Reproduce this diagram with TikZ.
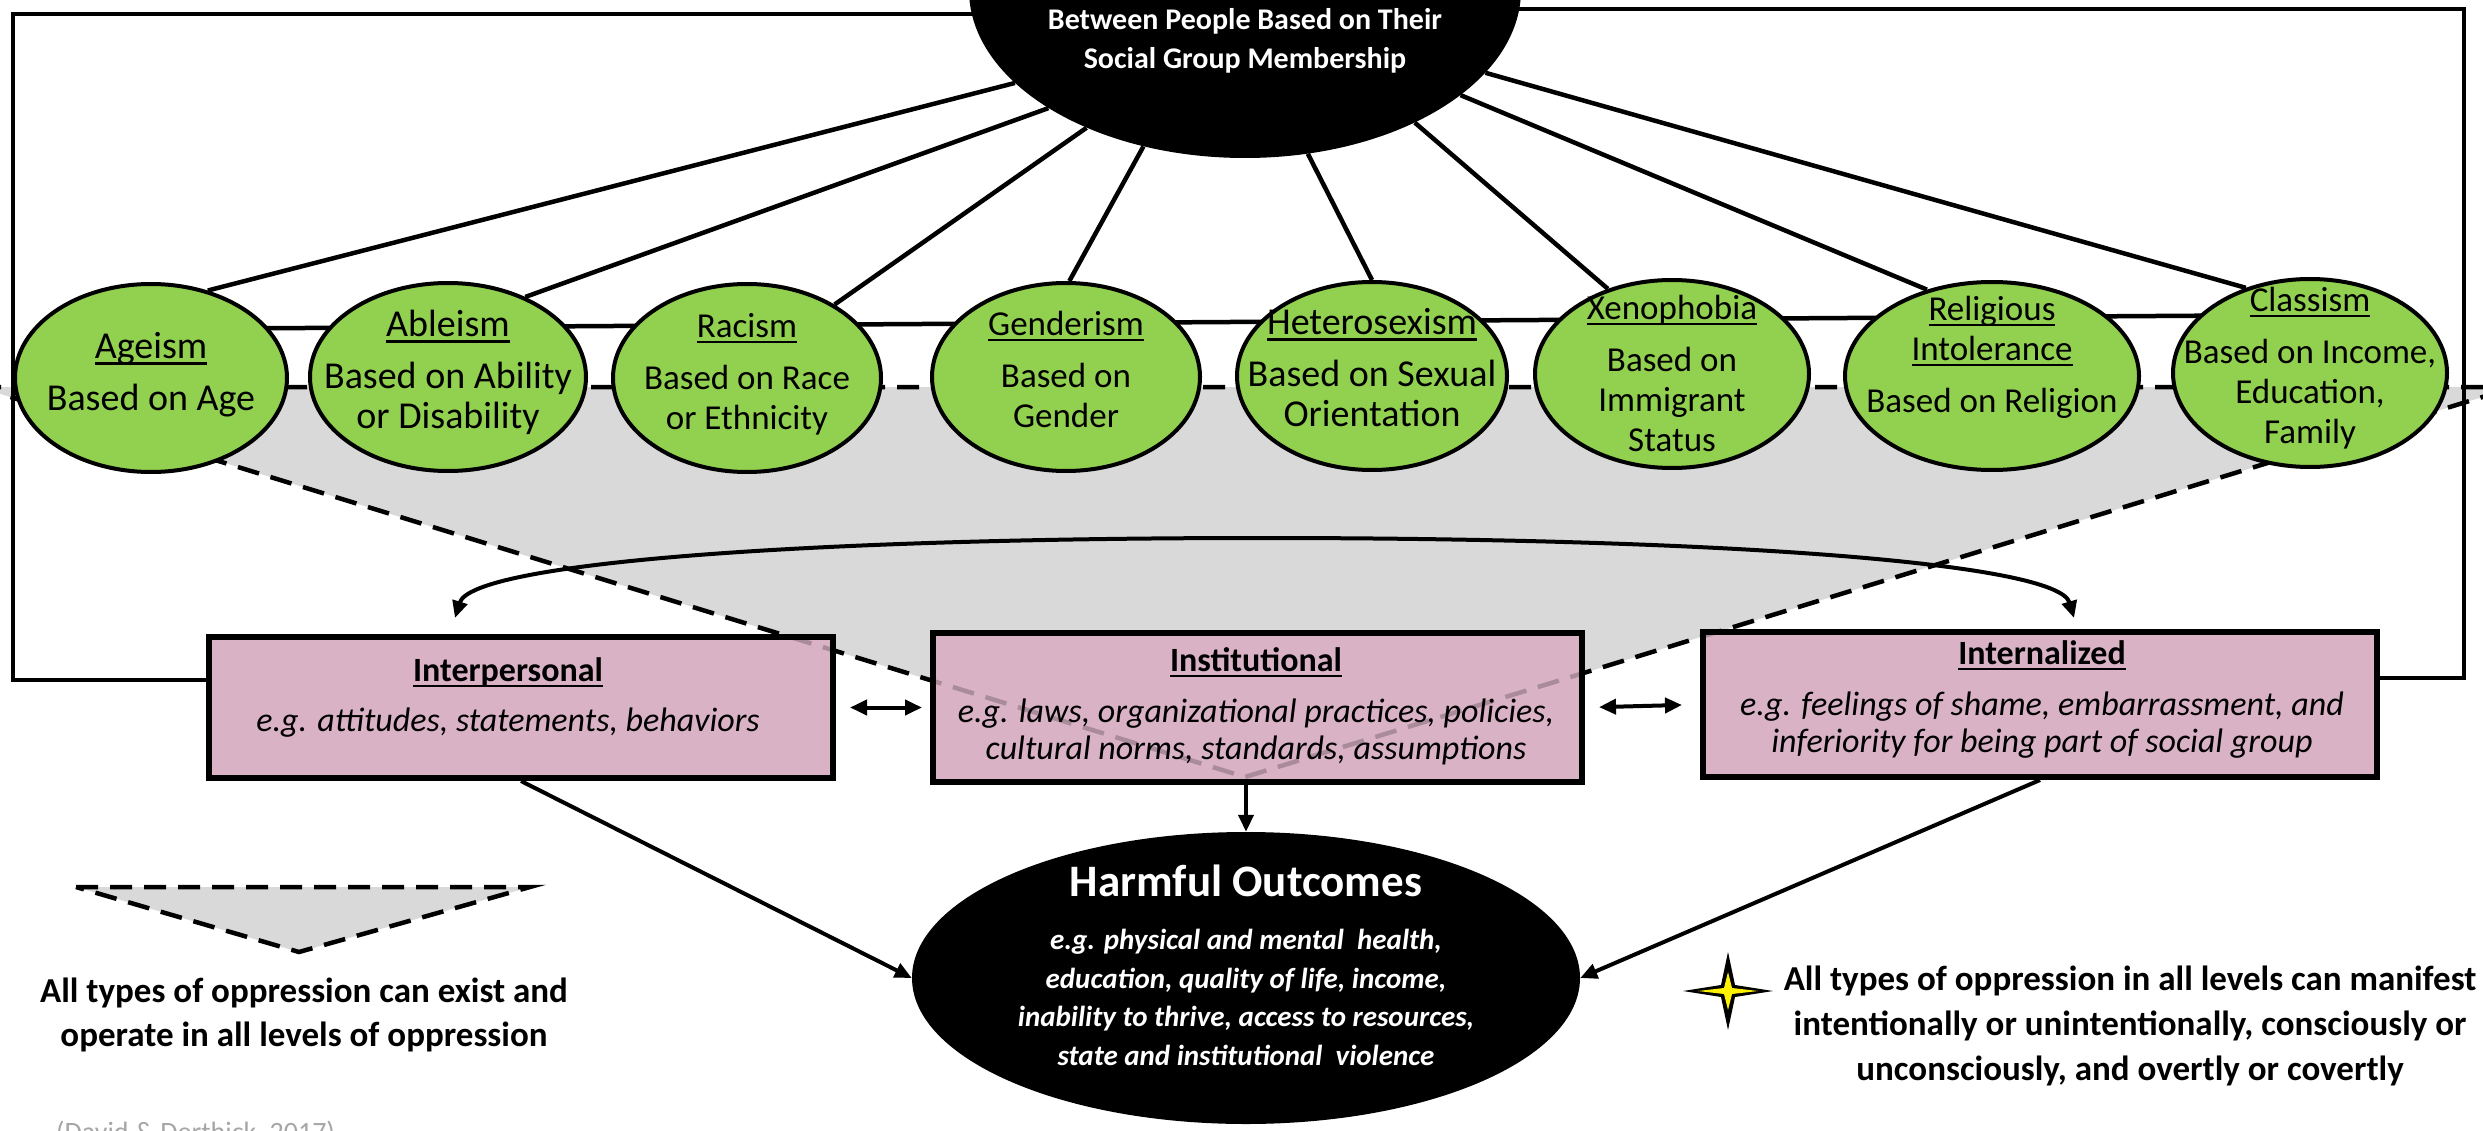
\documentclass[tikz,border=0pt]{standalone}
\usepackage{fontspec}
\setmainfont{Carlito}
\usetikzlibrary{shapes.geometric,arrows.meta,calc}
\definecolor{gfill}{RGB}{146,208,80}
\definecolor{pinkbox}{RGB}{217,179,197}
\definecolor{trigrey}{RGB}{217,217,217}
\definecolor{citegrey}{RGB}{166,166,166}
\definecolor{staryellow}{RGB}{255,242,0}
\newcommand{\myul}[1]{\leavevmode\setbox0=\hbox{#1}\rlap{\rule[-0.17em]{\wd0}{0.07em}}\box0}
\pgfdeclarelayer{bgtri}
\pgfdeclarelayer{bgline}
\pgfsetlayers{bgtri,bgline,main}
\begin{document}
\begin{tikzpicture}[x=1pt,y=-1pt,
  >={Triangle[length=17pt,width=15pt]},
  gell/.style={ellipse, draw=black, line width=4pt, fill=gfill, inner sep=0pt, minimum height=188pt},
  gtext/.style={align=center, inner sep=0pt, font=\fontsize{35}{40}\selectfont,
     execute at begin node=\strut, execute at end node=\strut},
  gtextbig/.style={gtext, font=\fontsize{38}{40}\selectfont},
  pbox/.style={rectangle, draw=black, line width=6pt, fill=pinkbox, inner sep=0pt},
  btext/.style={align=center, inner sep=0pt, font=\fontsize{34}{37}\selectfont,
     execute at begin node=\strut, execute at end node=\strut},
  wtext/.style={align=center, inner sep=0pt, text=white,
     execute at begin node=\strut, execute at end node=\strut},
  ltext/.style={align=center, inner sep=0pt, font=\bfseries\fontsize{35}{44}\selectfont,
     execute at begin node=\strut, execute at end node=\strut},
  spoke/.style={line width=4.5pt},
  frameline/.style={line width=4.5pt},
  dashline/.style={line width=4.5pt, dash pattern=on 22pt off 12pt},
  conn/.style={line width=4pt}
]
\useasboundingbox (0,0) rectangle (2483,1131);

% triangle corners
\coordinate (tl) at (-22,387);
\coordinate (tap) at (1245,777);
\coordinate (tr) at (2515,387);

% top ellipse
\node[ellipse, fill=black, minimum width=552pt, minimum height=336pt, inner sep=0pt] (top) at (1245,-10) {};
\node[wtext, font=\bfseries\fontsize{30}{39}\selectfont] (top-t) at (1245,44) {Between People Based on Their\\Social Group Membership};

% green ellipses
\node[gell, minimum width=272pt] (age) at (151,378) {};
\node[gell, minimum width=276pt] (able) at (448,377) {};
\node[gell, minimum width=268pt] (race) at (747,378) {};
\node[gell, minimum width=268pt] (gend) at (1066,377) {};
\node[gell, minimum width=270pt] (hetero) at (1372,376) {};
\node[gell, minimum width=274pt] (xeno) at (1672,374) {};
\node[gell, minimum width=294pt] (relig) at (1992,376) {};
\node[gell, minimum width=274pt] (class) at (2310,373) {};

\node[gtextbig] (age-t) at (151,377) {\myul{Ageism}\\[12pt]Based on Age};
\node[gtextbig] (able-t) at (448,375) {\myul{Ableism}\\[12pt]Based on Ability\\or Disability};
\node[gtext] (race-t) at (747,377) {\myul{Racism}\\[12pt]Based on Race\\or Ethnicity};
\node[gtext] (gend-t) at (1066,375) {\myul{Genderism}\\[12pt]Based on\\Gender};
\node[gtextbig] (hetero-t) at (1372,373) {\myul{Heterosexism}\\[12pt]Based on Sexual\\Orientation};
\node[gtext] (xeno-t) at (1672,379) {\myul{Xenophobia}\\[12pt]Based on\\Immigrant\\Status};
\node[gtext] (relig-t) at (1992,360) {\myul{Religious}\\\myul{Intolerance}\\[12pt]Based on Religion};
\node[gtext] (class-t) at (2310,371) {\myul{Classism}\\[12pt]Based on Income,\\Education,\\Family};

% background layers: triangle and line through ellipses
\begin{pgfonlayer}{bgtri}
  \fill[trigrey] (tl) -- (tap) -- (tr) -- cycle;
  \draw[dashline] (tl) -- (tap) -- (tr) -- cycle;
\end{pgfonlayer}
\begin{pgfonlayer}{bgline}
  \draw[spoke] ($(age.center)+(0,-49)$) -- ($(class.center)+(0,-58)$);
\end{pgfonlayer}

% spokes
\draw[spoke] (top.202.6) -- (age.57.7);
\draw[spoke] (top.211.1) -- (able.46.9);
\draw[spoke] (top.221.1) -- (race.40.7);
\draw[spoke] (top.237.5) -- (gend.88);
\draw[spoke] (top.291.8) -- (hetero.90);
\draw[spoke] (top.322.4) -- (xeno.127.2);
\draw[spoke] (top.334.2) -- (relig.127.8);
\draw[spoke] (top.341.6) -- (class.127.5);

% curved double arrow
\coordinate (al) at (455,618);
\coordinate (ar) at (2074,618);
\draw[conn, <->] (al) .. controls (472,563) and (800,538) .. (1262,538)
   .. controls (1725,538) and (2058,563) .. (ar);

% level boxes
\node[pbox, minimum width=624pt, minimum height=141pt] (interp) at (521,707.5) {};
\node[pbox, minimum width=649pt, minimum height=149pt] (inst) at (1257.5,707.5) {};
\node[pbox, minimum width=674pt, minimum height=145pt] (intern) at (2040,704.5) {};

\begin{scope}
  \clip (interp.south west) rectangle (interp.north east)
        (inst.south west) rectangle (inst.north east)
        (intern.south west) rectangle (intern.north east);
  \draw[dashline, opacity=0.22] (tl) -- (tap) -- (tr);
\end{scope}

\node[btext] (interp-t) at (508,700) {\textbf{\myul{Interpersonal}}\\[13pt]\itshape e.g. attitudes, statements, behaviors};
\node[btext] (inst-t) at (1256,709) {\textbf{\myul{Institutional}}\\[14pt]\itshape e.g. laws, organizational practices, policies,\\\itshape cultural norms, standards, assumptions};
\node[btext] (intern-t) at (2042,702) {\textbf{\myul{Internalized}}\\[14pt]\itshape e.g. feelings of shame, embarrassment, and\\\itshape inferiority for being part of social group};

% outer frame
\coordinate (lc) at (13,680);
\coordinate (rc) at (2464,678);
\draw[frameline] (top.185.4) -| (lc) -- (lc -| interp.west);
\draw[frameline] (top.356.6) -| (rc) -- (rc -| intern.east);

% harmful outcomes
\node[ellipse, fill=black, minimum width=668pt, minimum height=292pt, inner sep=0pt] (harm) at (1246,978) {};
\node[wtext, font=\bfseries\fontsize{45}{54}\selectfont] (harm-t) at (1246,886) {Harmful Outcomes};
\node[wtext, font=\bfseries\itshape\fontsize{29}{38.5}\selectfont] (harm-b) at (1246,1003) {e.g. physical and mental\ \ health,\\education, quality of life, income,\\inability to thrive, access to resources,\\state and institutional\ \ violence};

% arrows between boxes and to outcomes
\draw[conn, <->, shorten <=14pt, shorten >=8pt] (interp.east) -- (inst.west);
\draw[conn, <->, shorten <=14pt, shorten >=18pt] (inst.east) -- (intern.west);
\draw[conn, ->] (inst.south -| harm.north) -- (harm.north);
\draw[conn, ->] (interp.south) -- (harm.west);
\draw[conn, ->] (intern.south) -- (harm.east);

% legend triangle
\coordinate (lt1) at (76,887);
\coordinate (lt2) at (530,887);
\coordinate (lt3) at (299,952);
\fill[trigrey] (lt1) -- (lt2) -- (lt3) -- cycle;
\draw[dashline] (lt1) -- (lt2) -- (lt3) -- cycle;
\node[ltext] (leg-t) at (304,1019) {All types of oppression can exist and\\operate in all levels of oppression};

% star
\coordinate (st) at (1728,991);
\fill[black] ($(st)+(-45,0)$) -- ($(st)+(-7,-6)$) -- ($(st)+(0,-39)$) -- ($(st)+(7,-6)$) -- ($(st)+(45,0)$)
   -- ($(st)+(7,6)$) -- ($(st)+(0,39)$) -- ($(st)+(-7,6)$) -- cycle;
\fill[staryellow] ($(st)+(-30,0)$) -- ($(st)+(-4,-3)$) -- ($(st)+(0,-19)$) -- ($(st)+(4,-3)$) -- ($(st)+(30,0)$)
   -- ($(st)+(4,3)$) -- ($(st)+(0,19)$) -- ($(st)+(-4,3)$) -- cycle;
\node[ltext, font=\bfseries\fontsize{35}{45}\selectfont] (star-t) at (2130,1030) {All types of oppression in all levels can manifest\\intentionally or unintentionally, consciously or\\unconsciously, and overtly or covertly};

% citation
\node[anchor=base west, inner sep=0pt, text=citegrey, font=\fontsize{28}{34}\selectfont] (cite) at (56,1141) {(David \& Derthick, 2017)};
\end{tikzpicture}
\end{document}
